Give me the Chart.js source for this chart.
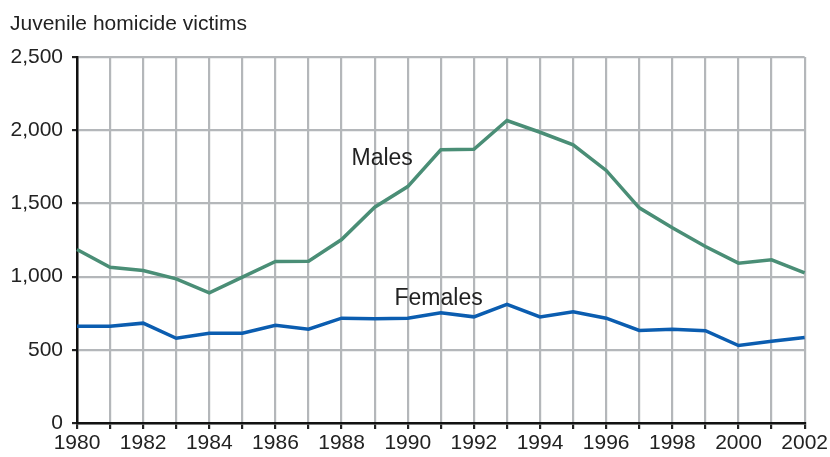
<!DOCTYPE html>
<html>
<head>
<meta charset="utf-8">
<script src="https://cdn.jsdelivr.net/npm/chart.js@4"></script>
<style>
  html, body { margin: 0; padding: 0; background: #fff; }
  #wrap { width: 830px; height: 457px; position: relative; }
</style>
</head>
<body>
<div id="wrap"><canvas id="chart"></canvas></div>
<script>
// data
const years = ["1980","1981","1982","1983","1984","1985","1986","1987","1988","1989","1990",
               "1991","1992","1993","1994","1995","1996","1997","1998","1999","2000","2001","2002"];
const males = [1185, 1064, 1042, 985, 889, 996, 1103, 1105, 1253, 1474, 1615,
               1866, 1870, 2066, 1986, 1900, 1725, 1470, 1333, 1206, 1092, 1115, 1026];
const females = [661, 661, 682, 579, 613, 613, 668, 641, 716, 712, 716,
                 753, 725, 811, 725, 760, 716, 632, 641, 630, 529, 559, 584];
const yTicks = [0, 500, 1000, 1500, 2000, 2500];

const titleText = "Juvenile homicide victims";
const FONT = "'Liberation Sans', Arial, Helvetica, sans-serif";
const GREEN = "#4a8e76";
const BLUE = "#0b5db0";
const GRID = "#b4b7ba";
const INK = "#222";

// ======================
// Text labels (title + series names)
// ======================
const textPlugin = {
    id: "textLabels",
    afterDraw(chart) {
        const ctx = chart.ctx;
        const x = chart.scales.x, y = chart.scales.y;
        ctx.save();
        ctx.fillStyle = INK;
        ctx.textBaseline = "alphabetic";
        ctx.textAlign = "left";
        ctx.font = "21px " + FONT;
        ctx.fillText(titleText, 10, 30);

        ctx.font = "23px " + FONT;
        ctx.textBaseline = "middle";
        ctx.fillText("Males", x.getPixelForValue(8.3), y.getPixelForValue(1803));
        ctx.fillText("Females", x.getPixelForValue(9.6), y.getPixelForValue(852));
        ctx.restore();
    }
};

new Chart(document.getElementById("chart"), {
    type: "line",
    data: {
        labels: years,
        datasets: [
            {
                label: "Males",
                data: males,
                borderColor: GREEN,
                borderWidth: 3.5,
                pointRadius: 0,
                tension: 0,
                fill: false
            },
            {
                label: "Females",
                data: females,
                borderColor: BLUE,
                borderWidth: 3.5,
                pointRadius: 0,
                tension: 0,
                fill: false
            }
        ]
    },
    options: {
        responsive: true,
        maintainAspectRatio: false,
        animation: false,
        layout: { padding: { left: 0, right: 24, top: 57, bottom: 0 } },
        plugins: {
            legend: { display: false },
            tooltip: { enabled: false }
        },
        scales: {
            x: {
                type: "category",
                offset: false,
                grid: { color: GRID, lineWidth: 2.2, tickColor: INK, tickLength: 6, drawTicks: true },
                border: { color: "#111", width: 2.5 },
                ticks: {
                    autoSkip: false,
                    maxRotation: 0,
                    padding: 2,
                    color: INK,
                    font: { family: FONT, size: 21 },
                    callback: function (val, i) { return i % 2 === 0 ? years[i] : ""; }
                },
                afterFit: function (scale) { scale.height = 34; }
            },
            y: {
                min: 0,
                max: 2500,
                grid: { color: GRID, lineWidth: 2.2, tickColor: INK, tickLength: 5, drawTicks: true },
                border: { color: "#111", width: 2.5 },
                afterBuildTicks: function (scale) {
                    scale.ticks = yTicks.map(v => ({ value: v }));
                },
                ticks: {
                    padding: 9,
                    color: INK,
                    font: { family: FONT, size: 21 },
                    callback: function (v) { return v.toLocaleString("en-US"); }
                },
                afterFit: function (scale) { scale.width = 77; }
            }
        }
    },
    plugins: [textPlugin]
});
</script>
</body>
</html>
